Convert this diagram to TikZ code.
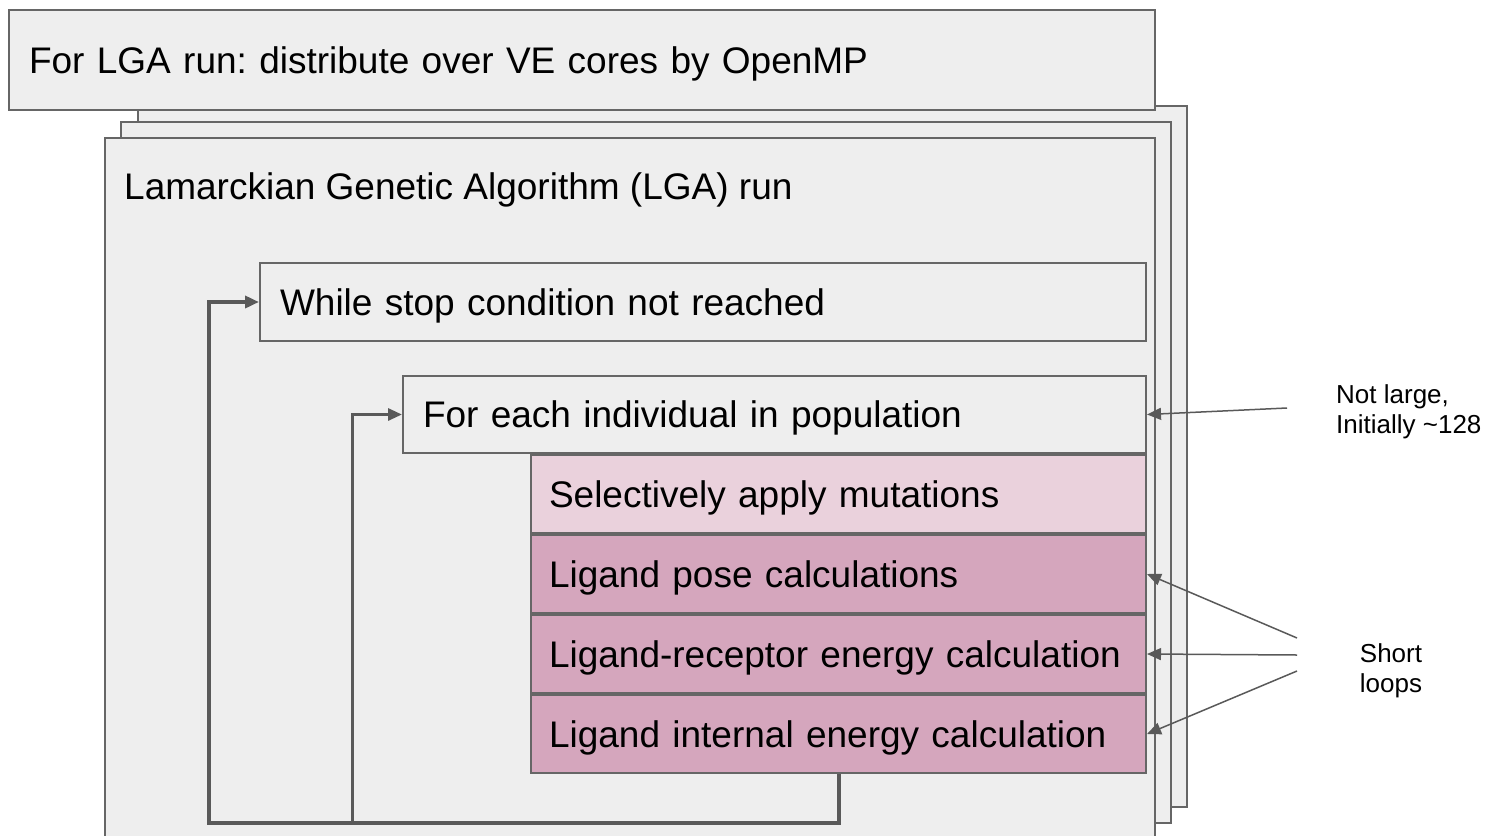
\documentclass[tikz,border=0pt]{standalone}
\usepackage{fontspec}
\setmainfont{Liberation Sans}
\usetikzlibrary{positioning,arrows.meta}

\definecolor{boxgray}{HTML}{EEEEEE}
\definecolor{edgegray}{HTML}{666666}
\definecolor{linegray}{HTML}{595959}
\definecolor{mutpink}{HTML}{EAD1DC}
\definecolor{calcpink}{HTML}{D5A6BD}

\frenchspacing

\begin{document}
\begin{tikzpicture}[x=1pt, y=-1pt,
  panel/.style={rectangle, draw=edgegray, fill=boxgray, line width=2pt, inner sep=0pt},
  stepbox/.style={rectangle, draw=edgegray, fill=boxgray, line width=2pt,
    inner xsep=20pt, align=left, text depth=0pt, font=\fontsize{37pt}{44pt}\selectfont},
  calcbox/.style={stepbox, fill=calcpink, inner xsep=18pt, text width=579pt, minimum height=78pt},
  note/.style={font=\fontsize{26pt}{30pt}\selectfont, inner sep=0pt},
  tip/.style={-{Triangle[length=14pt,width=12pt]}, linegray}
]

\clip (0,0) rectangle (1485,835);

% Stacked LGA runs (copies behind)
\node[panel, anchor=north west, minimum width=1049pt, minimum height=701pt] (backcore2) at (137,105) {};
\node[panel, anchor=north west, minimum width=1050pt, minimum height=701pt] (backcore1) at (120,121) {};

% OpenMP layer
\node[stepbox, anchor=north west, text width=1106pt, minimum height=100pt] (ompbox) at (8,9) {
  For LGA run: distribute over VE cores by OpenMP};

% LGA run
\node[panel, anchor=north west, minimum width=1050pt, minimum height=713pt] (lgabox) at (104,137) {};
\node[anchor=west, inner sep=0pt, text depth=0pt, font=\fontsize{37pt}{44pt}\selectfont] (lgatitle) at (124,186) {
  Lamarckian Genetic Algorithm (LGA) run};

% Loops
\node[stepbox, anchor=north west, text width=846pt, minimum height=78pt] (whilebox) at (259,262) {
  While stop condition not reached};
\node[stepbox, anchor=north west, text width=703pt, minimum height=77pt] (eachbox) at (402,375) {
  For each individual in population};

% Work for one individual
\node[calcbox, fill=mutpink, below left=0pt and 0pt of eachbox.south east] (mutbox) {
  Selectively apply mutations};
\node[calcbox, below=0pt of mutbox] (posebox) {
  Ligand pose calculations};
\node[calcbox, below=0pt of posebox] (recbox) {
  Ligand-receptor energy calculation};
\node[calcbox, below=0pt of recbox] (intbox) {
  Ligand internal energy calculation};

% Notes
\node[note, anchor=west, align=left] (sizenote) at (1336,412) {
  Not large,\\Initially \textasciitilde128};
\node[note, align=center] (shortnote) at (1391,671) {
  Short\\loops};

\coordinate (sizesrc) at (1287,408);
\coordinate (shortsrc1) at (1297,638);
\coordinate (shortsrc2) at (1297,655);
\coordinate (shortsrc3) at (1297,671);
\coordinate (outerbase) at (209,823);
\coordinate (innerbase) at (352,823);

% Arrows
\draw[tip, line width=4pt] (intbox.south) |- (outerbase) |- (whilebox.west);
\draw[tip, line width=3pt] (innerbase) |- (eachbox.west);
\draw[tip, line width=1.5pt] (sizesrc) -- (eachbox.east);
\draw[tip, line width=1.5pt] (shortsrc1) -- (posebox.east);
\draw[tip, line width=1.5pt] (shortsrc2) -- (recbox.east);
\draw[tip, line width=1.5pt] (shortsrc3) -- (intbox.east);

\end{tikzpicture}
\end{document}
